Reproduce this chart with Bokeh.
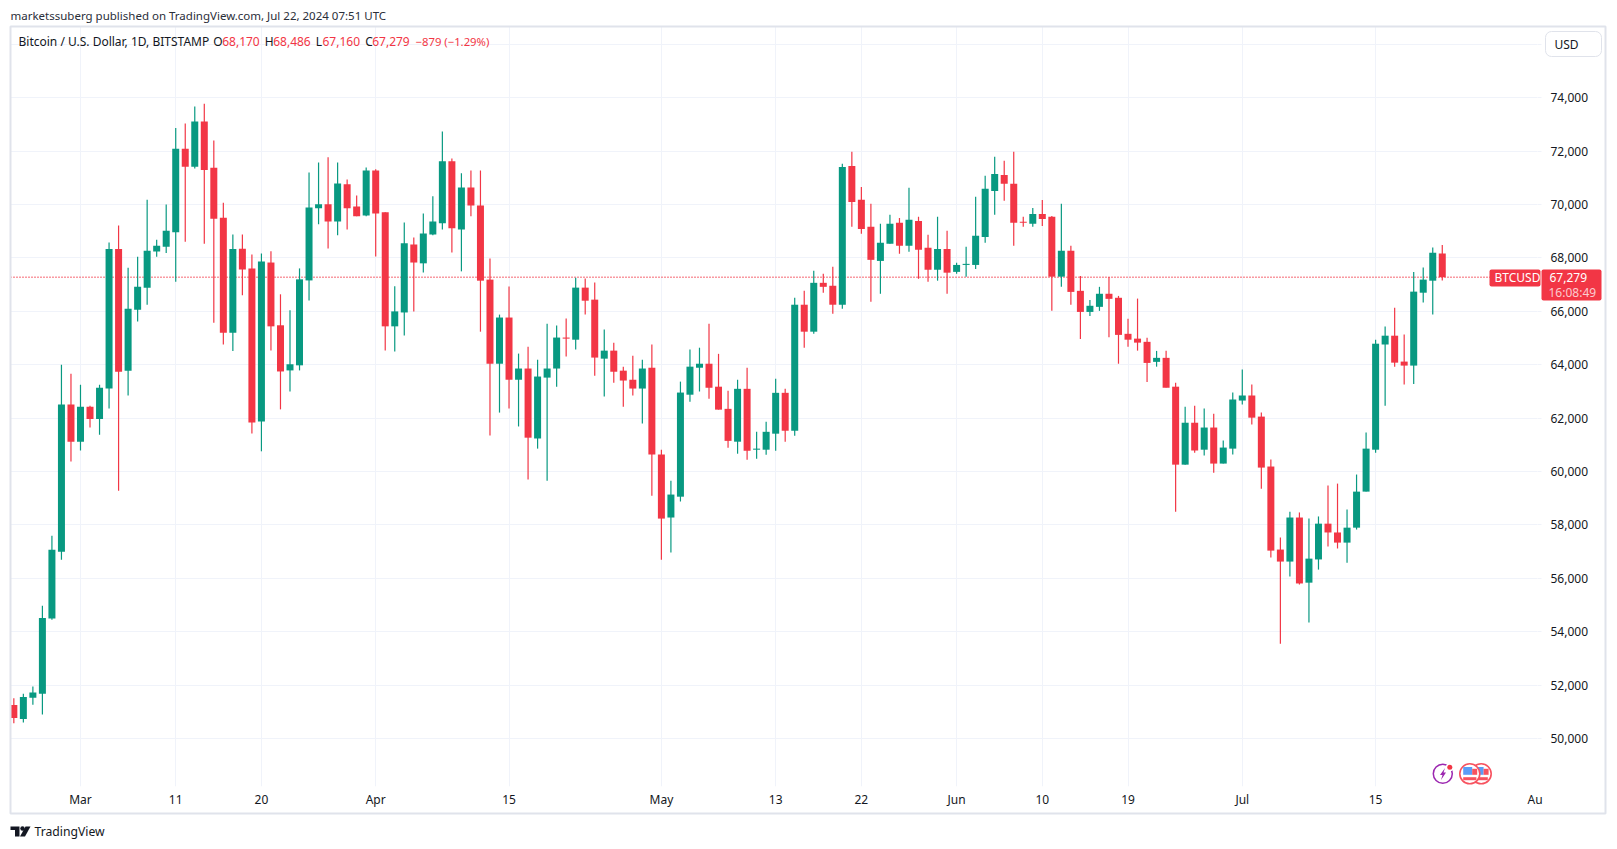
import pandas as pd
from bokeh.plotting import figure
from bokeh.embed import file_html
from bokeh.resources import INLINE
from bokeh.layouts import column
from bokeh.models import (ColumnDataSource, FixedTicker, Range1d, Label, BoxAnnotation,
                          PolyAnnotation, Span, NumeralTickFormatter)

START = "2024-02-23"
opens = [51260,50730,51530,51680,54500,57000,62510,
  61120,62430,61970,63110,68340,63780,66060,66890,68240,68420,68960,72090,71420,73110,71380,69510,65200,68350,67610,61880,67830,65480,63790,63980,67160,69860,70010,69370,70760,69930,69590,
  71280,69710,65440,65960,68510,67800,68880,69300,71620,69070,70640,69970,67190,64040,65770,63440,63860,61240,63520,63860,65020,64940,66890,66440,64230,64530,63780,63440,63110,63890,
  60640,58280,59060,62880,63890,64040,63180,62350,61120,63100,60820,60820,61420,62950,61530,66250,65240,67070,66960,66250,71450,70180,69170,67890,68530,69320,68460,69390,68380,67560,68340,
  67480,67740,67740,68790,70510,71110,70780,69360,69280,69650,69540,67300,68270,66770,65980,66170,66660,66510,65160,64980,64860,64110,64260,63180,60260,61830,60820,61650,60300,60860,
  62660,62850,62060,60190,57080,56630,58280,55840,56710,58050,57720,57340,57900,59250,60820,64760,65090,64120,63970,66700,67150,68170]
highs = [51510,51680,51950,54980,57600,64000,63660,
  63250,62470,63250,68580,69220,67630,68050,70180,68680,70000,72870,73040,73670,73780,72400,70070,68880,68880,68130,68170,68250,66640,66040,67610,71200,71580,71770,71580,70940,70340,71390,
  71320,69710,66940,69330,68770,69670,70310,72740,71730,71170,71280,71280,67980,65880,66930,64420,64680,64190,65540,65470,65730,67260,67230,67080,65320,64830,63930,64340,64190,64760,
  60820,59660,63370,64570,64640,65540,64410,63030,63440,63890,61490,61870,63480,63100,66510,66770,67520,67410,67670,71530,71980,70660,70030,69280,69620,69500,70630,69540,68870,69540,69020,
  67820,68420,70290,71080,71790,71640,71980,69540,69870,70170,69570,70030,68460,67330,66430,66920,67290,66580,65720,66480,65010,64520,64530,63330,62430,62470,62360,62170,61160,62960,
  63820,63260,62210,60450,57530,58500,58470,58240,58320,59480,59550,58580,59890,61460,64940,65430,66140,65130,67480,67640,68390,68486]
lows = [50575,50600,51270,50900,54450,56700,60380,
  60790,61650,61380,62360,59280,62850,65620,66250,68050,68190,67110,68610,71350,68530,65570,64760,64520,66600,61430,60760,64540,62330,63000,63790,66410,69260,68360,68850,69070,69560,69560,
  68060,64540,64500,65100,66000,67460,68850,69070,68210,67500,69560,65240,61350,62210,62360,61690,59700,60860,59660,63180,64310,64570,65880,63590,62810,63330,62430,62850,61800,59100,
  56700,56970,58880,62620,63000,62730,62320,60890,60670,60440,60480,60630,60780,61120,61340,64640,65160,66700,65910,66100,69170,68910,66360,66660,68530,68160,68230,67220,67110,67150,66660,
  67410,67300,67590,68570,69620,70140,68460,69170,69170,69200,66020,66920,66250,64970,65830,66020,65030,64040,64680,64530,63360,63930,63150,58500,60260,60710,60600,59960,60300,60640,
  62510,61760,59360,56780,53550,56070,55770,54350,56330,57190,57120,56590,57830,59250,60710,62470,63930,63260,63280,66330,65880,67160]
closes = [50770,51560,51730,54520,57070,62510,61120,
  62430,61970,63140,68340,63740,66100,66920,68270,68460,69020,72090,71420,73110,71300,69470,65200,68340,67570,61840,67870,65440,63750,64020,67200,69890,70010,69370,70790,69860,69560,71280,
  69670,65440,66000,68550,67830,68920,69370,71620,69110,70640,69970,67150,64040,65770,63440,63860,61270,63560,63860,65020,64980,66890,66400,64270,64530,63740,63410,63110,63860,60640,
  58240,59140,62960,63930,64040,63140,62320,61150,63100,60780,60860,61490,62950,61530,66250,65240,67070,66920,66250,71410,70100,69090,67930,68570,69280,68460,69430,68310,67560,68340,67450,
  67740,67780,68830,70590,71150,70780,69320,69320,69650,69460,67300,68270,66730,65980,66210,66660,66470,65120,64940,64830,64070,64260,63140,60260,61830,60790,61650,60300,60900,62700,
  62850,62020,60150,57040,56630,58280,55810,56740,58050,57720,57340,57900,59250,60860,64790,65090,64080,63970,66740,67190,68200,67279]
assert len(opens) == len(highs) == len(lows) == len(closes) == 151

x_tick_dates = ["2024-03-01","2024-03-11","2024-03-20","2024-04-01","2024-04-15","2024-05-01","2024-05-13",
                "2024-05-22","2024-06-01","2024-06-10","2024-06-19","2024-07-01","2024-07-15","2024-08-01"]
x_tick_labels = ["Mar","11","20","Apr","15","May","13","22","Jun","10","19","Jul","15",""]
price_ticks = [50000,52000,54000,56000,58000,60000,62000,64000,66000,68000,70000,72000,74000,76000]
last_price = 67279

UP, DOWN, GRID, BORDER, INK = "#089981", "#f23645", "#f0f3fa", "#e0e3eb", "#131722"
FONT = "Noto Sans"

def day(d):
    return (pd.Timestamp(d) - pd.Timestamp(START)).days

xs = list(range(len(opens)))
colors = [UP if c >= o else DOWN for o, c in zip(opens, closes)]
src = ColumnDataSource(dict(x=xs, o=opens, h=highs, l=lows, c=closes, color=colors,
                            top=[max(a, b) for a, b in zip(opens, closes)],
                            bottom=[min(a, b) for a, b in zip(opens, closes)]))

W, H = 1617, 849
p = figure(width=W, height=H, output_backend="svg", toolbar_location=None, y_axis_location="right",
           x_range=Range1d(-0.35, 160.0), y_range=Range1d(48206, 76670), frame_align=False,
           min_border_left=10, min_border_right=80, min_border_top=26, min_border_bottom=63)
p.outline_line_color = None
p.background_fill_color = "white"
p.border_fill_color = "white"

p.xaxis.ticker = FixedTicker(ticks=[day(d) for d in x_tick_dates])
p.xaxis.major_label_overrides = {day(d): t for d, t in zip(x_tick_dates, x_tick_labels)}
p.yaxis.ticker = FixedTicker(ticks=price_ticks)
p.yaxis.formatter = NumeralTickFormatter(format="0,0")
p.yaxis.major_label_overrides = {76000: ""}
for ax in (p.xaxis[0], p.yaxis[0]):
    ax.axis_line_color = None
    ax.minor_tick_line_color = None
    ax.major_label_text_font = FONT
    ax.major_label_text_font_size = "12px"
    ax.major_label_text_color = INK
p.xaxis.major_tick_line_color = None
p.xaxis.major_tick_out = 0
p.xaxis.major_tick_in = 0
p.xaxis.major_label_standoff = 4
p.yaxis.major_tick_line_color = GRID
p.yaxis.major_tick_in = 0
p.yaxis.major_tick_out = 4
p.yaxis.major_label_standoff = 9
p.xgrid.grid_line_color = GRID
p.ygrid.grid_line_color = GRID

p.add_layout(Span(location=last_price, dimension="width", line_color=DOWN, line_dash="1 2", line_width=1.4, level="underlay"))
p.segment("x", "h", "x", "l", source=src, line_color="color", line_width=1.2)
p.vbar("x", 0.735, "bottom", "top", source=src, fill_color="color", line_color=None)

# transparent page-sized layer for the panel chrome that lies outside the plot frame
o = figure(width=W, height=H, output_backend="svg", toolbar_location=None, frame_align=False,
           x_range=Range1d(0, W), y_range=Range1d(H, 0), x_axis_location=None, y_axis_location=None,
           min_border=0, min_border_left=0, min_border_right=0, min_border_top=0, min_border_bottom=0,
           styles={"position": "absolute", "left": "0px", "top": "0px", "pointer-events": "none"})
o.grid.visible = False
o.outline_line_color = None
o.background_fill_color = None
o.border_fill_color = None

def text(x, y, s, color=INK, size="12px", align="left", weight="normal", alpha=1.0):
    o.add_layout(Label(x=x, y=y, x_units="canvas", y_units="canvas", text=s, text_color=color,
                       text_font=FONT, text_font_size=size, text_align=align, text_baseline="middle",
                       text_font_style=weight, text_alpha=alpha, level="overlay"))

def box(l, t, r, b, fill=None, line=None, lw=1, radius=0):
    o.add_layout(BoxAnnotation(left=l, right=r, top=t, bottom=b,
                               left_units="canvas", right_units="canvas", top_units="canvas", bottom_units="canvas",
                               fill_color=fill, fill_alpha=1 if fill else 0, line_color=line,
                               line_alpha=1 if line else 0, line_width=lw, border_radius=radius, level="overlay"))

def poly(xs_, ys_, color):
    o.add_layout(PolyAnnotation(xs=xs_, ys=ys_, xs_units="canvas", ys_units="canvas", fill_color=color, fill_alpha=1,
                                line_color=None, level="overlay"))

box(10, 26, 1605, 813, None, BORDER, 2)
box(1545, 31, 1601, 56, "white", BORDER, 1, 6)
box(1489, 269, 1540, 286, DOWN, None, 1, 2)
box(1541, 269, 1601, 300, DOWN, None, 1, 2)

text(10, 15, "marketssuberg published on TradingView.com, Jul 22, 2024 07:51 UTC", "#2a2e39", "11.5px")
text(18, 41, "Bitcoin / U.S. Dollar, 1D, BITSTAMP")
for x0, s, c in [(212.7,"O",INK),(221.7,"68,170",DOWN),(264.3,"H",INK),(272.7,"68,486",DOWN),(315.3,"L",INK),(322,"67,160",DOWN),
                 (364.7,"C",INK),(371.7,"67,279",DOWN)]:
    text(x0, 41, s, c)
text(415, 41, "−879 (−1.29%)", DOWN, "11.3px")
text(1527, 799, "Au")
text(1554, 44, "USD")
text(1494, 277, "BTCUSD", "white")
text(1549, 277, "67,279", "white")
text(1548, 291.5, "16:08:49", "white", alpha=0.75)
text(34, 831, "TradingView", INK, "12.2px")
poly([10, 19, 19, 14.5, 14.5, 10], [826, 826, 836, 836, 829.5, 829.5], INK)
poly([25, 30, 24.5, 19.5], [826, 826, 836, 836], INK)
o.scatter([22], [828], size=4.5, marker="circle", fill_color=INK, line_color=None)

# event icons at the bottom of the pane
PURPLE, RING = "#9c27b0", "#f7525f"
o.scatter([1442.3], [773.3], size=19, marker="circle", fill_color="white", line_color=PURPLE, line_width=1.5)
o.scatter([1449.3], [766.7], size=8, marker="circle", fill_color="white", line_color=None)
o.scatter([1449.3], [766.7], size=5, marker="circle", fill_color=DOWN, line_color=None)
o.patch([1444.5, 1439.5, 1442, 1440.5, 1445.5, 1443, 1444.5], [767.5, 774.5, 774.5, 779.5, 772, 772, 767.5],
        fill_color=PURPLE, line_color=None)
for cx in (1480.7, 1469.3):
    o.scatter([cx], [773.3], size=20, marker="circle", fill_color="white", line_color=RING, line_width=1.6)
    o.quad(left=[cx - 6.6], right=[cx + 2.4], top=[766.5], bottom=[774.3], fill_color="#5b9cf6", line_color=None)
    o.quad(left=[cx + 2.4], right=[cx + 7.4], top=[768.3], bottom=[774.3], fill_color=RING, line_color=None)
    o.quad(left=[cx - 6.6], right=[cx + 6.6], top=[776.7], bottom=[779.7], fill_color=RING, line_color=None)

open("out.html", "w").write(file_html(column(p, o), INLINE))
